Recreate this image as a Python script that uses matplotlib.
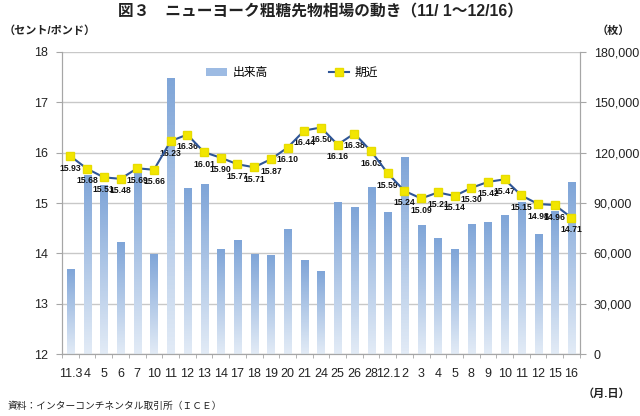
import matplotlib
matplotlib.use('Agg')
import matplotlib.pyplot as plt
import numpy as np
from matplotlib.colors import LinearSegmentedColormap
from matplotlib.lines import Line2D
from matplotlib.patches import Patch

plt.rcParams['font.family'] = ['Liberation Sans', 'Noto Sans CJK JP']

# 日付ラベル
fechas = ['11.3', '4', '5', '6', '7', '10', '11', '12', '13', '14', '17', '18', '19',
          '20', '21', '24', '25', '26', '28', '12.1', '2', '3', '4', '5', '8', '9',
          '10', '11', '12', '15', '16']
# 期近 (セント/ポンド)
kikin = [15.93, 15.68, 15.51, 15.48, 15.69, 15.66, 16.23, 16.36, 16.01, 15.90, 15.77,
         15.71, 15.87, 16.10, 16.44, 16.50, 16.16, 16.38, 16.03, 15.59, 15.24, 15.09,
         15.21, 15.14, 15.30, 15.42, 15.47, 15.15, 14.98, 14.96, 14.71]
# 出来高 (枚)
dekidaka = [50700, 106700, 100700, 66800, 109700, 59600, 164500, 98900, 101300, 62600,
            67900, 59600, 59000, 74500, 56000, 49500, 90600, 87600, 99500, 84600,
            117400, 76900, 69100, 62600, 77500, 78700, 82800, 90600, 71500, 85200, 102500]

x = np.arange(len(fechas))

fig = plt.figure(figsize=(6.4, 4.16), dpi=100)
fig.patch.set_facecolor('white')

ax = fig.add_axes([0.097, 0.149, 0.809, 0.726])
ax2 = ax.twinx()

# --- barras con degradado ---
cmap_bar = LinearSegmentedColormap.from_list('barra', ['#E2EBF6', '#7FA5D8'])
grad = np.linspace(0, 1, 64).reshape(-1, 1)
ancho = 0.42
barras = ax.bar(x, dekidaka, width=ancho, color='none', edgecolor='none', zorder=2)
for b in barras:
    x0, w, h = b.get_x(), b.get_width(), b.get_height()
    im = ax.imshow(grad, extent=[x0, x0 + w, 0, h], origin='lower', aspect='auto',
                   cmap=cmap_bar, zorder=2)
    im.set_clip_path(b)

ax.set_xlim(-0.5, len(fechas) - 0.5)
ax.set_ylim(0, 180000)
ax.set_yticks(np.arange(0, 180001, 30000))
ax.set_yticklabels([f'{v:,}' for v in range(0, 180001, 30000)])
ax.yaxis.tick_right()
ax.yaxis.grid(True, color='#C8C8C8', linewidth=1.0, zorder=0)
ax.set_axisbelow(True)

# --- linea ---
ax2.plot(x, kikin, color='#2E5597', linewidth=1.5, marker='s', markersize=6,
         markerfacecolor='#F2E600', markeredgecolor='#E8DC00', zorder=5)
for xi, v in zip(x, kikin):
    ax2.annotate(f'{v:.2f}', (xi, v), xytext=(0, -12), textcoords='offset pixels',
                 ha='center', va='center', fontsize=6.2, fontweight='bold', color='#111111')
ax2.set_ylim(12, 18)
ax2.set_yticks(range(12, 19))
ax2.yaxis.tick_left()
ax2.yaxis.set_label_position('left')

for a in (ax, ax2):
    a.spines['top'].set_visible(False)
    for s in ('left', 'right', 'bottom'):
        a.spines[s].set_color('#A6A6A6')
    a.tick_params(axis='y', length=4, color='#A6A6A6', labelsize=9, pad=6, labelcolor='#222222')

ax.set_xticks(x)
ax.set_xticklabels(fechas)
ax.set_xticks(np.arange(-0.5, len(fechas), 1), minor=True)
ax.tick_params(axis='x', which='major', length=0, labelsize=9, pad=10, labelcolor='#222222')
ax.tick_params(axis='x', which='minor', length=3, color='#A6A6A6')

# --- leyenda ---
handles = [Patch(facecolor='#9DBBE3', edgecolor='none'),
           Line2D([0], [0], color='#2E5597', linewidth=1.5, marker='s', markersize=6,
                  markerfacecolor='#F2E600', markeredgecolor='#E8DC00')]
ax2.legend(handles, ['出来高', '期近'], loc='center', bbox_to_anchor=(0.445, 0.93),
           ncol=2, frameon=False, fontsize=8.5, handlelength=1.7, handletextpad=0.5,
           columnspacing=5.2, handleheight=0.6)

# --- textos ---
fig.text(0.5, 0.972, '図３　ニューヨーク粗糖先物相場の動き（11/ 1～12/16）', ha='center',
         va='center', fontsize=11.3, fontweight='bold', color='#222222')
fig.text(0.006, 0.927, '（セント/ポンド）', ha='left', va='center', fontsize=8,
         fontweight='bold', color='#222222')
fig.text(0.985, 0.927, '（枚）', ha='right', va='center', fontsize=8,
         fontweight='bold', color='#222222')
fig.text(0.985, 0.055, '（月.日）', ha='right', va='center', fontsize=8,
         fontweight='bold', color='#222222')
fig.text(0.012, 0.024, '資料：インターコンチネンタル取引所（ＩＣＥ）', ha='left', va='center',
         fontsize=7, color='#222222')

fig.savefig('out.png', dpi=100)
